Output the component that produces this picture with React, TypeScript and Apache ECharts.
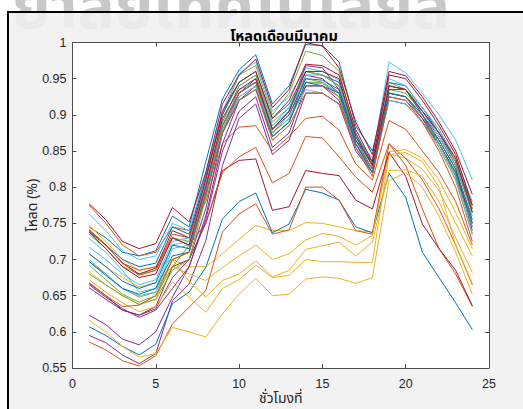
import React, { useEffect, useRef } from "react";
import * as echarts from "echarts";

const hours = [1, 2, 3, 4, 5, 6, 7, 8, 9, 10, 11, 12, 13, 14, 15, 16, 17, 18, 19, 20, 21, 22, 23, 24];

const d01 = [0.745, 0.73, 0.71, 0.705, 0.712, 0.76, 0.745, 0.835, 0.922, 0.962, 0.983, 0.915, 0.94, 0.997, 0.996, 0.973, 0.885, 0.85, 0.945, 0.94, 0.91, 0.875, 0.835, 0.775];
const d02 = [0.775, 0.75, 0.72, 0.705, 0.71, 0.745, 0.74, 0.78, 0.86, 0.883, 0.885, 0.85, 0.87, 0.895, 0.898, 0.879, 0.832, 0.81, 0.892, 0.88, 0.85, 0.82, 0.78, 0.72];
const d03 = [0.747, 0.725, 0.7, 0.685, 0.69, 0.7, 0.69, 0.69, 0.708, 0.728, 0.747, 0.74, 0.74, 0.751, 0.75, 0.745, 0.74, 0.738, 0.849, 0.852, 0.84, 0.81, 0.765, 0.715];
const d04 = [0.595, 0.585, 0.568, 0.556, 0.57, 0.643, 0.666, 0.726, 0.83, 0.895, 0.915, 0.845, 0.865, 0.93, 0.93, 0.915, 0.85, 0.82, 0.92, 0.915, 0.89, 0.86, 0.82, 0.75];
const d05 = [0.735, 0.715, 0.69, 0.68, 0.685, 0.73, 0.725, 0.81, 0.9, 0.955, 0.968, 0.9, 0.93, 0.988, 0.982, 0.96, 0.875, 0.83, 0.935, 0.935, 0.9, 0.86, 0.82, 0.76];
const d06 = [0.763, 0.74, 0.712, 0.7, 0.705, 0.75, 0.74, 0.82, 0.905, 0.957, 0.973, 0.905, 0.925, 0.965, 0.96, 0.948, 0.87, 0.84, 0.973, 0.958, 0.93, 0.9, 0.865, 0.81];
const d07 = [0.777, 0.755, 0.725, 0.715, 0.722, 0.772, 0.752, 0.82, 0.915, 0.955, 0.977, 0.91, 0.935, 1.0, 0.995, 0.965, 0.89, 0.845, 0.96, 0.954, 0.925, 0.89, 0.85, 0.79];
const d08 = [0.607, 0.595, 0.58, 0.568, 0.583, 0.639, 0.655, 0.689, 0.756, 0.78, 0.792, 0.737, 0.749, 0.797, 0.792, 0.782, 0.745, 0.737, 0.819, 0.786, 0.71, 0.675, 0.64, 0.603];
const d09 = [0.586, 0.575, 0.56, 0.553, 0.567, 0.611, 0.634, 0.657, 0.738, 0.763, 0.777, 0.735, 0.741, 0.8, 0.8, 0.782, 0.74, 0.735, 0.86, 0.83, 0.77, 0.715, 0.68, 0.635];
const d10 = [0.708, 0.69, 0.675, 0.662, 0.668, 0.69, 0.68, 0.671, 0.689, 0.705, 0.72, 0.7, 0.708, 0.727, 0.736, 0.732, 0.72, 0.733, 0.846, 0.84, 0.825, 0.795, 0.75, 0.705];
const d11 = [0.623, 0.61, 0.59, 0.582, 0.6, 0.648, 0.69, 0.76, 0.86, 0.92, 0.94, 0.87, 0.89, 0.955, 0.95, 0.93, 0.86, 0.825, 0.93, 0.925, 0.9, 0.87, 0.83, 0.765];
const d12 = [0.697, 0.68, 0.66, 0.648, 0.655, 0.7, 0.71, 0.79, 0.88, 0.93, 0.945, 0.875, 0.9, 0.95, 0.945, 0.93, 0.865, 0.83, 0.935, 0.93, 0.905, 0.87, 0.83, 0.765];
const d13 = [0.717, 0.7, 0.68, 0.665, 0.672, 0.725, 0.73, 0.805, 0.89, 0.94, 0.955, 0.885, 0.905, 0.955, 0.955, 0.94, 0.87, 0.835, 0.94, 0.935, 0.905, 0.87, 0.835, 0.765];
const d14 = [0.667, 0.65, 0.63, 0.623, 0.635, 0.69, 0.7, 0.75, 0.823, 0.837, 0.839, 0.768, 0.773, 0.823, 0.819, 0.816, 0.782, 0.77, 0.848, 0.815, 0.749, 0.715, 0.685, 0.636];
const d15 = [0.738, 0.72, 0.7, 0.69, 0.695, 0.745, 0.735, 0.815, 0.9, 0.945, 0.96, 0.895, 0.915, 0.96, 0.955, 0.945, 0.875, 0.83, 0.935, 0.935, 0.9, 0.86, 0.815, 0.745];
const d16 = [0.742, 0.72, 0.695, 0.685, 0.69, 0.73, 0.72, 0.75, 0.82, 0.842, 0.855, 0.806, 0.819, 0.87, 0.868, 0.842, 0.814, 0.793, 0.86, 0.84, 0.81, 0.77, 0.72, 0.665];
const d17 = [0.683, 0.665, 0.65, 0.638, 0.645, 0.7, 0.67, 0.648, 0.671, 0.68, 0.698, 0.676, 0.685, 0.714, 0.719, 0.724, 0.705, 0.724, 0.823, 0.824, 0.815, 0.78, 0.73, 0.682];
const d18 = [0.661, 0.645, 0.63, 0.623, 0.632, 0.675, 0.7, 0.77, 0.875, 0.93, 0.95, 0.88, 0.905, 0.968, 0.965, 0.935, 0.865, 0.835, 0.94, 0.935, 0.905, 0.875, 0.835, 0.77];
const d19 = [0.692, 0.672, 0.652, 0.641, 0.65, 0.69, 0.72, 0.8, 0.89, 0.94, 0.955, 0.89, 0.91, 0.96, 0.955, 0.94, 0.87, 0.83, 0.945, 0.935, 0.91, 0.88, 0.835, 0.77];
const d20 = [0.729, 0.71, 0.685, 0.655, 0.66, 0.72, 0.725, 0.8, 0.885, 0.935, 0.945, 0.885, 0.91, 0.945, 0.943, 0.93, 0.86, 0.825, 0.95, 0.94, 0.91, 0.88, 0.84, 0.78];
const d21 = [0.74, 0.72, 0.695, 0.68, 0.688, 0.74, 0.73, 0.81, 0.905, 0.945, 0.96, 0.895, 0.92, 0.97, 0.968, 0.955, 0.88, 0.835, 0.955, 0.95, 0.92, 0.885, 0.845, 0.775];
const d22 = [0.708, 0.69, 0.67, 0.66, 0.668, 0.72, 0.715, 0.795, 0.885, 0.93, 0.945, 0.88, 0.9, 0.95, 0.948, 0.935, 0.865, 0.825, 0.93, 0.925, 0.895, 0.86, 0.82, 0.75];
const d23 = [0.74, 0.72, 0.695, 0.678, 0.685, 0.735, 0.73, 0.8, 0.885, 0.93, 0.945, 0.875, 0.895, 0.94, 0.94, 0.925, 0.86, 0.825, 0.93, 0.925, 0.895, 0.855, 0.81, 0.735];
const d24 = [0.672, 0.655, 0.64, 0.628, 0.635, 0.669, 0.648, 0.627, 0.66, 0.672, 0.692, 0.675, 0.678, 0.7, 0.697, 0.697, 0.696, 0.696, 0.845, 0.848, 0.835, 0.8, 0.72, 0.667];
const d25 = [0.665, 0.648, 0.632, 0.62, 0.63, 0.66, 0.69, 0.755, 0.85, 0.905, 0.925, 0.855, 0.875, 0.94, 0.94, 0.92, 0.855, 0.82, 0.925, 0.92, 0.895, 0.865, 0.825, 0.74];
const d26 = [0.68, 0.665, 0.65, 0.638, 0.645, 0.685, 0.7, 0.785, 0.875, 0.925, 0.94, 0.87, 0.89, 0.945, 0.945, 0.925, 0.86, 0.82, 0.93, 0.925, 0.9, 0.86, 0.815, 0.745];
const d27 = [0.7, 0.68, 0.66, 0.65, 0.655, 0.715, 0.72, 0.795, 0.88, 0.925, 0.94, 0.875, 0.895, 0.935, 0.93, 0.915, 0.855, 0.82, 0.92, 0.915, 0.89, 0.855, 0.81, 0.735];
const d28 = [0.738, 0.715, 0.69, 0.675, 0.68, 0.73, 0.72, 0.8, 0.895, 0.935, 0.95, 0.88, 0.905, 0.96, 0.96, 0.95, 0.87, 0.83, 0.94, 0.935, 0.905, 0.875, 0.84, 0.765];
const d29 = [0.697, 0.678, 0.66, 0.652, 0.66, 0.705, 0.71, 0.79, 0.875, 0.92, 0.935, 0.87, 0.89, 0.945, 0.94, 0.93, 0.86, 0.82, 0.93, 0.925, 0.9, 0.865, 0.825, 0.755];
const d30 = [0.668, 0.65, 0.635, 0.637, 0.65, 0.7, 0.71, 0.79, 0.875, 0.92, 0.935, 0.865, 0.885, 0.93, 0.93, 0.915, 0.855, 0.815, 0.925, 0.92, 0.89, 0.85, 0.8, 0.725];
const d31 = [0.616, 0.6, 0.58, 0.565, 0.57, 0.606, 0.6, 0.593, 0.625, 0.652, 0.674, 0.65, 0.652, 0.673, 0.676, 0.674, 0.667, 0.675, 0.809, 0.82, 0.8, 0.76, 0.71, 0.652];

const days = [d01, d02, d03, d04, d05, d06, d07, d08, d09, d10, d11, d12, d13, d14, d15, d16, d17, d18, d19, d20, d21, d22, d23, d24, d25, d26, d27, d28, d29, d30, d31];

const palette = ["#0072BD", "#D95319", "#EDB120", "#7E2F8E", "#77AC30", "#4DBEEE", "#A2142F"];

const title = "โหลดเดือนมีนาคม";
const xName = "ชั่วโมงที่";
const yName = "โหลด (%)";
const watermark = "ยาลัยเทคโนโลยีสุ";

const FONT = "'Liberation Sans', Arial, Helvetica, sans-serif";
const THAI = "'Noto Sans Thai', 'Tahoma', 'Liberation Sans', sans-serif";

export default function App() {
  const ref = useRef<HTMLDivElement>(null);
  useEffect(() => {
    const chart = echarts.init(ref.current!, null, { renderer: "svg" });
    const axisColor = "#4d4d4d";
    const labelColor = "#262626";
    const commonX = {
      type: "value" as const,
      min: 0,
      max: 25,
      interval: 5,
      splitLine: { show: false },
      axisLine: { show: true, onZero: false, lineStyle: { color: axisColor, width: 1 } },
      axisTick: { show: true, inside: true, length: 4, lineStyle: { color: axisColor } },
    };
    const commonY = {
      type: "value" as const,
      min: 0.55,
      max: 1,
      interval: 0.05,
      splitLine: { show: false },
      axisLine: { show: true, onZero: false, lineStyle: { color: axisColor, width: 1 } },
      axisTick: { show: true, inside: true, length: 4, lineStyle: { color: axisColor } },
    };
    chart.setOption({
      animation: false,
      backgroundColor: "transparent",
      title: {
        text: title,
        left: 279,
        top: 24,
        textAlign: "center",
        textStyle: { fontSize: 14.5, fontWeight: "bold", color: "#000", fontFamily: THAI, lineHeight: 16 },
      },
      grid: {
        left: 72.5,
        right: 34,
        top: 42.5,
        bottom: 41,
        containLabel: false,
        outerBoundsMode: "none",
        show: true,
        backgroundColor: "#ffffff",
        borderWidth: 0,
      },
      xAxis: [
        {
          ...commonX,
          position: "bottom",
          axisLabel: { color: labelColor, fontSize: 12.5, fontFamily: FONT, margin: 9 },
          name: xName,
          nameLocation: "middle",
          nameGap: 22,
          nameMoveOverlap: false,
          nameTextStyle: { color: labelColor, fontSize: 14, fontFamily: THAI, lineHeight: 16 },
        },
        { ...commonX, position: "top", axisLabel: { show: false } },
      ],
      yAxis: [
        {
          ...commonY,
          position: "left",
          axisLabel: {
            color: labelColor,
            fontSize: 12.5,
            fontFamily: FONT,
            margin: 6,
            formatter: (v: number) => String(Math.round(v * 100) / 100),
          },
          name: yName,
          nameLocation: "middle",
          nameGap: 32,
          nameMoveOverlap: false,
          nameTextStyle: { color: labelColor, fontSize: 14, fontFamily: THAI, lineHeight: 16 },
        },
        { ...commonY, position: "right", axisLabel: { show: false } },
      ],
      series: days.map((vals, i) => ({
        type: "line",
        name: `day ${i + 1}`,
        xAxisIndex: 0,
        yAxisIndex: 0,
        data: hours.map((h, j) => [h, vals[j]]),
        showSymbol: false,
        symbol: "none",
        lineStyle: { width: 1, color: palette[i % palette.length] },
        itemStyle: { color: palette[i % palette.length] },
        z: 3,
      })),
    });
    return () => chart.dispose();
  }, []);
  return (
    <div style={{ position: "fixed", left: 0, top: 0, width: 523, height: 409, background: "#fff", overflow: "hidden" }}>
      <div style={{ position: "absolute", left: 0, top: 0, width: 523, height: 31, overflow: "hidden" }}>
        <div
          style={{
            position: "absolute",
            left: 12,
            top: -10,
            font: `bold 62px ${THAI}`,
            lineHeight: "38px",
            height: 38,
            color: "#c8c8c8",
            whiteSpace: "nowrap",
          }}
        >
          {watermark}
        </div>
      </div>
      <div
        style={{
          position: "absolute",
          left: 7,
          top: 11,
          width: 540,
          height: 420,
          background: "rgba(240,240,240,0.85)",
          borderLeft: "2px solid #000",
          borderTop: "2px solid #000",
        }}
      />
      <div ref={ref} style={{ position: "absolute", left: 0, top: 0, width: 523, height: 409 }} />
    </div>
  );
}
